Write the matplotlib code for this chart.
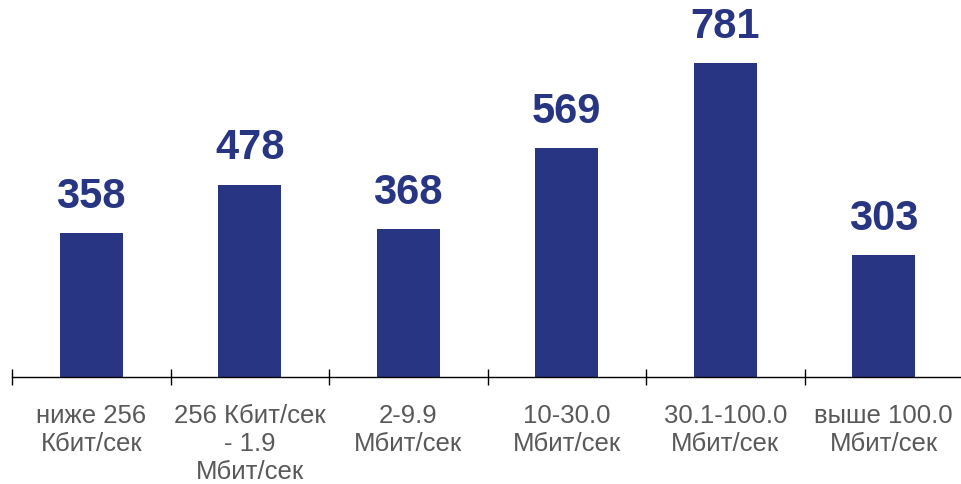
import matplotlib

matplotlib.use("Agg")
import matplotlib.pyplot as plt

categories = [
    "ниже 256\nКбит/сек",
    "256 Кбит/сек\n- 1.9\nМбит/сек",
    "2-9.9\nМбит/сек",
    "10-30.0\nМбит/сек",
    "30.1-100.0\nМбит/сек",
    "выше 100.0\nМбит/сек",
]
values = [358, 478, 368, 569, 781, 303]

navy = "#283583"
gray = "#595959"

plt.rcParams["font.family"] = ["Liberation Sans", "DejaVu Sans"]

fig = plt.figure(figsize=(9.61, 4.85), dpi=100)
ax = fig.add_axes([12 / 961, 107 / 485, 951 / 961, 378 / 485])

x = list(range(len(values)))
bars = ax.bar(x, values, width=0.4, color=navy)
for xi, v in zip(x, values):
    ax.annotate(str(v), (xi, v), xytext=(0, 19), textcoords="offset points",
                ha="center", va="baseline", fontsize=30, fontweight="bold", color=navy)

ax.set_xlim(-0.5, len(values) - 0.5)
ax.set_ylim(0, 781 * 378 / 314)

for s in ["top", "right", "left"]:
    ax.spines[s].set_visible(False)
ax.spines["bottom"].set_linewidth(1.0)
ax.set_yticks([])

ax.set_xticks(x)
ax.set_xticklabels(categories, fontsize=18.5, color=gray, linespacing=1.2)
ax.tick_params(axis="x", which="major", length=0, pad=19)
ax.set_xticks([i - 0.5 for i in range(len(values) + 1)], minor=True)
ax.tick_params(axis="x", which="minor", direction="inout", length=12, width=1.0, color="black")

fig.savefig("out.png", dpi=100)
